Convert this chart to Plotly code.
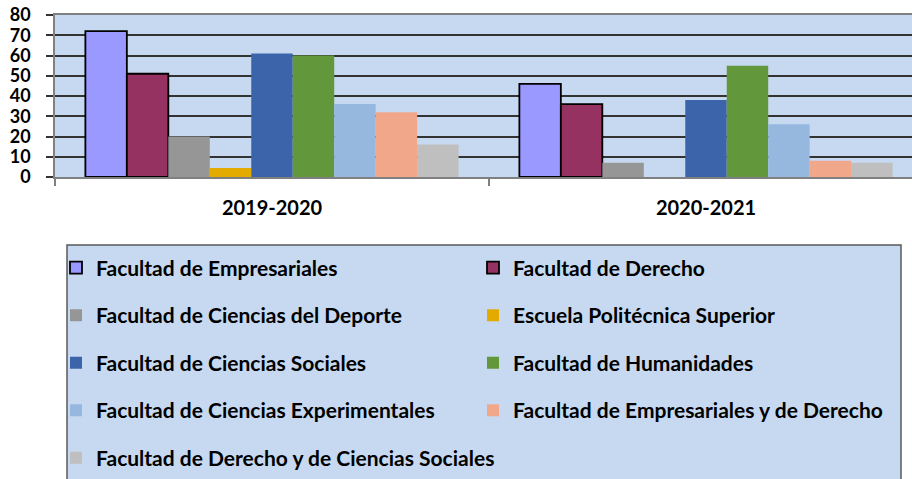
import plotly.graph_objects as go

years = ["2019-2020", "2020-2021"]
facultades = [
    "Facultad de Empresariales",
    "Facultad de Derecho",
    "Facultad de Ciencias del Deporte",
    "Escuela Politécnica Superior",
    "Facultad de Ciencias Sociales",
    "Facultad de Humanidades",
    "Facultad de Ciencias Experimentales",
    "Facultad de Empresariales y de Derecho",
    "Facultad de Derecho y de Ciencias Sociales",
]
empresariales = [72, 46]
derecho = [51, 36]
deporte = [20, 7]
politecnica = [4.5, 0]
sociales = [61, 38]
humanidades = [60, 55]
experimentales = [36, 26]
emp_derecho = [32, 8]
der_sociales = [16, 7]
values = [empresariales, derecho, deporte, politecnica, sociales,
          humanidades, experimentales, emp_derecho, der_sociales]
colors = ["#9999FF", "#963262", "#969696", "#E3AA00", "#3C64AA",
          "#62973C", "#96B8DF", "#F1A88A", "#BFBFBF"]
outlined = [True, True, False, False, False, False, False, False, False]

FONT = "Lato"
fig = go.Figure()
for i, (name, vals, col, ol) in enumerate(zip(facultades, values, colors, outlined)):
    fig.add_trace(go.Bar(
        x=years, y=vals, name=name,
        marker=dict(color=col, line=dict(color="#000000", width=1.8 if ol else 0)),
        legend="legend" if i % 2 == 0 else "legend2",
        legendgroup=name,
    ))

fs_leg = 21
h_item = fs_leg * 1.3 + 3
gap = 47.5 - h_item

W, H = 912, 479
ml, mr, mt, mb = 55, 0, 15, 302
pw = W - ml - mr
ph = H - mt - mb

def px_x(p):
    return (p - ml) / pw

def px_y(p):
    return (H - mb - p) / ph

leg_common = dict(
    orientation="v", bgcolor="rgba(0,0,0,0)", borderwidth=0,
    font=dict(family=FONT, size=fs_leg, color="#000000", weight="bold"),
    tracegroupgap=gap, traceorder="grouped",
    xanchor="left", yanchor="top", y=px_y(247.5),
)

fig.update_layout(
    width=W, height=H,
    margin=dict(l=ml, r=mr, t=mt, b=mb, autoexpand=False),
    paper_bgcolor="#FFFFFF",
    plot_bgcolor="#C6D9F1",
    barmode="group", bargap=0.14, bargroupgap=0,
    showlegend=True,
    legend=dict(x=px_x(56), **leg_common),
    legend2=dict(x=px_x(473), **leg_common),
    xaxis=dict(
        type="category", range=[-0.5, 1.5 - 11 / 434], automargin=False,
        showline=True, linecolor="#808080", linewidth=1.5, mirror=True,
        ticks="outside", tickson="boundaries", ticklen=7, tickcolor="#808080", tickwidth=1.5,
        tickfont=dict(family=FONT, size=20, color="#000000", weight="bold"),
        ticklabelstandoff=12,
        showgrid=False,
    ),
    yaxis=dict(
        range=[0, 80], dtick=10, tick0=0, automargin=False,
        showline=True, linecolor="#808080", linewidth=1.5,
        ticks="outside", ticklen=7, tickcolor="#333333", tickwidth=1.5,
        showgrid=True, gridcolor="#333333", gridwidth=1.5,
        zeroline=False,
        tickfont=dict(family=FONT, size=18, color="#000000", weight="bold"),
        ticklabelstandoff=12,
    ),
    shapes=[dict(
        type="rect", xref="paper", yref="paper",
        x0=px_x(67), x1=px_x(901), y0=px_y(245), y1=px_y(490),
        fillcolor="#C6D9F1", line=dict(color="#595959", width=1.5), layer="below",
    )],
)

fig.write_html("out.html", config={"displayModeBar": False},
               post_script="document.body.style.margin='0';")
